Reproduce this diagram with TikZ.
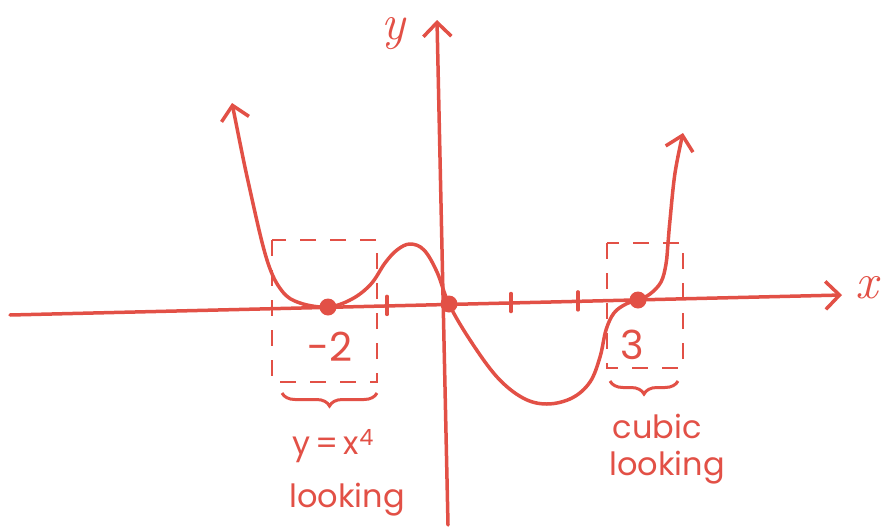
\documentclass[tikz,border=0pt]{standalone}
\usepackage{fontspec}
\setsansfont{Poppins}
\usepackage{tikz}
\usetikzlibrary{arrows.meta,decorations.pathreplacing}
\definecolor{pen}{RGB}{226,80,70}

\begin{document}
\begin{tikzpicture}[
        x=1pt, y=-1pt,
        ink/.style={pen, line width=3.5pt, line cap=round, line join=round},
        tips/.style={{Straight Barb[length=14pt, width=28pt]}-{Straight Barb[length=14pt, width=28pt]}},
        tip/.style={-{Straight Barb[length=14pt, width=28pt]}},
        zone/.style={pen, line width=2.5pt, dash pattern=on 16pt off 14pt},
        curly/.style={pen, line width=3pt, decorate, decoration={brace, mirror, amplitude=13pt}},
        hand/.style={pen, font=\sffamily\fontsize{32}{36}\selectfont, inner sep=0pt},
        num/.style={pen, font=\sffamily\fontsize{40}{44}\selectfont, inner sep=0pt},
        axl/.style={pen, font=\rmfamily\itshape\fontsize{50}{54}\selectfont, inner sep=0pt},
        dot/.style={circle, fill=pen, minimum size=17pt, inner sep=0pt},
    ]
    \useasboundingbox (0,0) rectangle (885,530);

    % Axes
    \coordinate (xl) at (10,315);
    \coordinate (xr) at (842,295);
    \coordinate (yb) at (448,525);
    \coordinate (yt) at (437,20);
    \draw[ink, tip] (xl) -- (xr);
    \draw[ink, tip] (yb) -- (yt);
    \node[axl] (xlab) at (867,288) {x};
    \node[axl] (ylab) at (393,34) {y};

    % Tick marks at -1, 1, 2
    \foreach \tx/\ty in {387/305.4, 511/302.5, 578/300.9} {
        \draw[ink] (\tx,\ty-9) -- (\tx,\ty+9);
    }

    % The curve (arrows on both ends)
    \draw[ink, tips] plot[smooth, tension=0.6] coordinates {
        (232,103) (250,190) (267,260) (282,291) (300,303) (328,307)
        (352,299) (371,284) (385,263) (397,250) (410,244) (424,250)
        (437,272) (449,304) (470,340) (497,377) (523,398) (547,404)
        (572,398) (590,382) (600,357) (606,330) (614,313) (626,304)
        (638,300) (650,294) (661,282) (666,264) (668,243) (670,220)
        (675,173) (683,133)};

    % Zeros
    \node[dot] (zm2) at (328,307) {};
    \node[dot] (z0) at (449,304) {};
    \node[dot] (z3) at (638,300) {};

    % Boxes round the zeros at -2 and 3
    \draw[zone] (272,240) rectangle (377,382);
    \draw[zone] (607,243) rectangle (683,368);
    \node[num] (lm2) at (330,347) {-2};
    \node[num] (l3) at (632,345) {3};

    % Braces and notes
    \draw[curly] (282,393) -- (377,393);
    \draw[curly] (610,381) -- (678,381);
    \node[hand] (lquart) at (333,446) {y\,=\,x\textsuperscript{4}};
    \node[hand] (llookl) at (347,500) {looking};
    \node[hand] (lcubic) at (657,426) {cubic};
    \node[hand] (llookr) at (667,468) {looking};

\end{tikzpicture}
\end{document}
